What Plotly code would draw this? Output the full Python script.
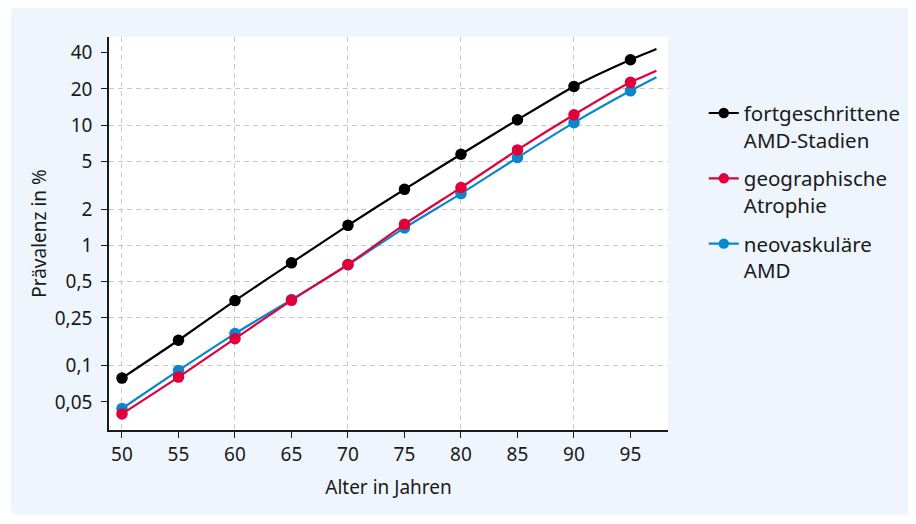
import plotly.graph_objects as go

# ---- data ----
ages = [50, 55, 60, 65, 70, 75, 80, 85, 90, 95, 97.3]
fortgeschritten = [0.079, 0.163, 0.348, 0.717, 1.47, 2.93, 5.73, 11.1, 21.0, 35.0, 43.0]
geographisch = [0.0398, 0.0805, 0.168, 0.350, 0.695, 1.50, 3.03, 6.23, 12.2, 22.7, 28.4]
neovaskulaer = [0.0441, 0.0914, 0.185, 0.355, 0.69, 1.40, 2.70, 5.38, 10.5, 19.3, 25.0]
series_names = ["fortgeschrittene<br>AMD-Stadien", "geographische<br>Atrophie", "neovaskuläre<br>AMD"]
y_tickvals = [0.05, 0.1, 0.25, 0.5, 1, 2, 5, 10, 20, 40]
y_ticktext = ["0,05", "0,1", "0,25", "0,5", "1", "2", "5", "10", "20", "40"]
y_gridvals = [0.1, 0.25, 0.5, 1, 2, 5, 10, 20]
x_tickvals = [50, 55, 60, 65, 70, 75, 80, 85, 90, 95]
x_gridvals = [50, 60, 70, 80, 90]

colors = ["#000000", "#e2003a", "#0a86cc"]
FONT = "Noto Sans"
TXT = "#1a1a1a"

W, H = 916, 524
ML, MR, MT, MB = 101, 256, 29, 102

fig = go.Figure()
series = list(zip(series_names, [fortgeschritten, geographisch, neovaskulaer], colors, [1, 2, 3]))
# draw order: black, blue, red (red on top), legend order kept via legendrank
for name, vals, col, rank in [series[0], series[2], series[1]]:
    sizes = [11.5] * (len(ages) - 1) + [0]
    fig.add_trace(go.Scatter(
        x=ages, y=vals, name=name, mode="lines+markers",
        line=dict(color=col, width=2.2, shape="spline", smoothing=0.6),
        marker=dict(color=col, size=sizes, opacity=1, line=dict(width=0)),
        legendgroup=name, legendrank=rank,
    ))

# background rounded box (paper coords computed from pixel positions)
pw, ph = W - ML - MR, H - MT - MB
def px(x):
    return (x - ML) / pw
def py(y):
    return (H - MB - y) / ph
x0, x1, y0, y1, r = 3, 905, -1, 507, 6
path = (f"M {px(x0+r)},{py(y0)} L {px(x1-r)},{py(y0)} Q {px(x1)},{py(y0)} {px(x1)},{py(y0+r)} "
        f"L {px(x1)},{py(y1-r)} Q {px(x1)},{py(y1)} {px(x1-r)},{py(y1)} "
        f"L {px(x0+r)},{py(y1)} Q {px(x0)},{py(y1)} {px(x0)},{py(y1-r)} "
        f"L {px(x0)},{py(y0+r)} Q {px(x0)},{py(y0)} {px(x0+r)},{py(y0)} Z")
fig.add_shape(type="path", path=path, xref="paper", yref="paper",
              fillcolor="#eef5fc", line=dict(width=0), layer="below")
fig.add_shape(type="rect", x0=0, x1=1, y0=0, y1=1, xref="paper", yref="paper",
              fillcolor="white", line=dict(width=0), layer="below")

fig.update_layout(
    width=W, height=H,
    margin=dict(l=ML, r=MR, t=MT, b=MB, autoexpand=False),
    paper_bgcolor="white", plot_bgcolor="white",
    font=dict(family=FONT, size=19, color=TXT),
    showlegend=True,
    legend=dict(
        x=1.064, y=0.857, xanchor="left", yanchor="top",
        font=dict(family=FONT, size=20.5, color=TXT),
        bgcolor="rgba(0,0,0,0)", traceorder="grouped", tracegroupgap=9,
        valign="top", itemwidth=30,
    ),
    xaxis=dict(
        range=[48.85, 98.32], tickmode="array", tickvals=x_tickvals,
        ticks="outside", ticklen=6, tickwidth=1.3, tickcolor=TXT,
        showline=True, linecolor=TXT, linewidth=1.5,
        showgrid=False, zeroline=False,
        tickfont=dict(size=19, color=TXT),
        title=dict(text="Alter in Jahren", font=dict(size=19, color=TXT), standoff=15),
        minor=dict(tickmode="array", tickvals=x_gridvals, showgrid=True,
                   gridcolor="#c8c8c8", gridwidth=1.2, griddash="5px,4px", ticklen=0),
    ),
    yaxis=dict(
        type="log", range=[-1.534, 1.733], tickmode="array",
        tickvals=y_tickvals, ticktext=y_ticktext,
        ticks="outside", ticklen=6, tickwidth=1.3, tickcolor=TXT,
        showline=True, linecolor=TXT, linewidth=1.5,
        showgrid=False, zeroline=False,
        tickfont=dict(size=19, color=TXT), ticklabelstandoff=5,
        title=dict(text="Prävalenz in %", font=dict(size=19, color=TXT), standoff=3),
        minor=dict(tickmode="array", tickvals=y_gridvals, showgrid=True,
                   gridcolor="#c8c8c8", gridwidth=1.2, griddash="5px,4px", ticklen=0),
    ),
)

fig.write_html("out.html")
